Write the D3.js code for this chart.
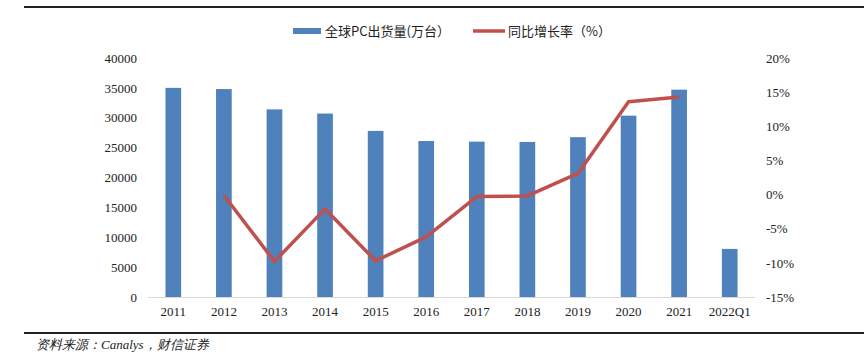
<!DOCTYPE html>
<html><head><meta charset="utf-8">
<script src="https://cdn.jsdelivr.net/npm/d3@7"></script>
<style>body{margin:0;background:#fff}svg{display:block}</style>
</head><body>
<svg id="c" width="864" height="352"></svg>
<script>
const categories = ["2011","2012","2013","2014","2015","2016","2017","2018","2019","2020","2021","2022Q1"];
const shipments = [35000,34800,31400,30700,27800,26100,26000,25950,26750,30350,34700,8050];
const growth = [null,-0.1,-9.8,-2.1,-9.7,-6.2,-0.3,-0.2,3.1,13.6,14.3,null];
const leftTicks = [0,5000,10000,15000,20000,25000,30000,35000,40000];
const rightTicks = [-15,-10,-5,0,5,10,15,20];
const legendLabels = ["全球PC出货量(万台）","同比增长率（%）"];
const sourceText = "资料来源：Canalys，财信证券";

const svg = d3.select("#c");
const serif = "'Liberation Serif','Times New Roman',serif";
const cjk = "'Noto Sans CJK SC','Noto Sans',sans-serif";

const x = d3.scaleBand().domain(categories).range([148,755]).paddingInner(0.69).paddingOuter(0.345);
const yL = d3.scaleLinear().domain([0,40000]).range([297,58]);
const yR = d3.scaleLinear().domain([-15,20]).range([297,58]);

// frame lines
svg.append("line").attr("x1",24).attr("x2",864).attr("y1",7).attr("y2",7).attr("stroke","#222").attr("stroke-width",2);
svg.append("line").attr("x1",24).attr("x2",864).attr("y1",333).attr("y2",333).attr("stroke","#222").attr("stroke-width",2);

// bars
svg.append("g").selectAll("rect").data(categories).join("rect")
  .attr("x",d=>x(d)).attr("width",x.bandwidth())
  .attr("y",(d,i)=>yL(shipments[i])).attr("height",(d,i)=>yL(0)-yL(shipments[i]))
  .attr("fill","#4F81BD");

// baseline
svg.append("line").attr("x1",148).attr("x2",755).attr("y1",297.5).attr("y2",297.5).attr("stroke","#D9D9D9").attr("stroke-width",1);

// left axis
const gL = svg.append("g").attr("transform","translate(137,0)")
  .call(d3.axisLeft(yL).tickValues(leftTicks).tickSize(0).tickPadding(0).tickFormat(d3.format("d")));
gL.select(".domain").remove();
gL.selectAll("text").attr("font-family",serif).attr("font-size",13).attr("fill","#222");

// right axis
const gR = svg.append("g").attr("transform","translate(766,0)")
  .call(d3.axisRight(yR).tickValues(rightTicks).tickSize(0).tickPadding(0).tickFormat(d=>d+"%"));
gR.select(".domain").remove();
gR.selectAll("text").attr("font-family",serif).attr("font-size",13).attr("fill","#222");

// x axis
const gX = svg.append("g").attr("transform","translate(0,297)")
  .call(d3.axisBottom(x).tickSize(0).tickPadding(10));
gX.select(".domain").remove();
gX.selectAll("text").attr("font-family",serif).attr("font-size",13).attr("fill","#222");

// line
const line = d3.line().defined(d=>d.v!==null).x(d=>x(d.c)+x.bandwidth()/2).y(d=>yR(d.v));
svg.append("path").datum(categories.map((c,i)=>({c,v:growth[i]})))
  .attr("d",line).attr("fill","none").attr("stroke","#C0504D").attr("stroke-width",3.5).attr("stroke-linejoin","round");

// legend
svg.append("rect").attr("x",293).attr("y",28).attr("width",28).attr("height",6).attr("fill","#4F81BD");
svg.append("text").attr("x",325).attr("y",36).text(legendLabels[0]).attr("font-family",cjk).attr("font-size",13).attr("fill","#222");
svg.append("line").attr("x1",473).attr("x2",505).attr("y1",31).attr("y2",31).attr("stroke","#C0504D").attr("stroke-width",3.5);
svg.append("text").attr("x",508).attr("y",36).text(legendLabels[1]).attr("font-family",cjk).attr("font-size",13).attr("fill","#222");

// source
svg.append("text").attr("x",36).attr("y",349).text(sourceText).attr("font-family",serif).attr("font-style","italic").attr("font-size",13).attr("fill","#222");
</script>
</body></html>
